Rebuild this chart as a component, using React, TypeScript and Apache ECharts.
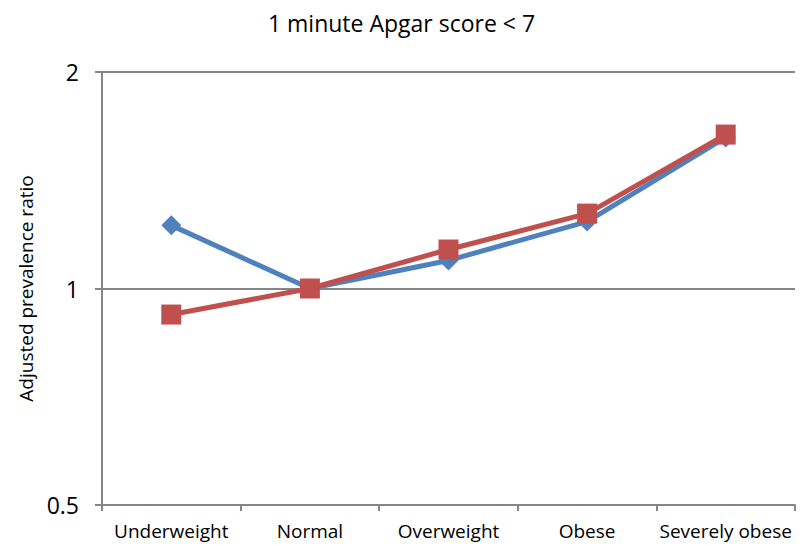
import React, { useEffect, useRef } from "react";
import * as echarts from "echarts";

const categories = ["Underweight", "Normal", "Overweight", "Obese", "Severely obese"];
const seriesA = [1.224, 1.0, 1.094, 1.239, 1.622];
const seriesB = [0.92, 1.0, 1.133, 1.271, 1.637];
const titleText = "1 minute Apgar score < 7";
const yAxisName = "Adjusted prevalence ratio";

const FONT = "Open Sans";

export default function App() {
  const ref = useRef<HTMLDivElement>(null);
  useEffect(() => {
    if (!ref.current) return;
    const chart = echarts.init(ref.current, null, { renderer: "svg" });
    chart.setOption({
      animation: false,
      backgroundColor: "#ffffff",
      title: {
        text: titleText,
        left: "center",
        top: 6,
        textStyle: { fontFamily: FONT, fontSize: 23, fontWeight: "normal", color: "#000" },
      },
      grid: { left: 102, right: 8, top: 72, bottom: 41 },
      xAxis: {
        type: "category",
        data: categories,
        boundaryGap: true,
        axisLine: { lineStyle: { color: "#868686", width: 2 } },
        axisTick: { show: true, alignWithLabel: false, length: 6, lineStyle: { color: "#868686", width: 2 } },
        axisLabel: { fontFamily: FONT, fontSize: 19, color: "#000", margin: 16, interval: 0 },
        splitLine: { show: false },
      },
      yAxis: {
        type: "log",
        logBase: 2,
        min: 0.5,
        max: 2,
        name: yAxisName,
        nameLocation: "middle",
        nameGap: 66,
        nameTextStyle: { fontFamily: FONT, fontSize: 19, color: "#000" },
        axisLine: { show: true, lineStyle: { color: "#868686", width: 2 } },
        axisTick: { show: true, length: 7, lineStyle: { color: "#868686", width: 2 } },
        axisLabel: { fontFamily: FONT, fontSize: 23, color: "#000", margin: 23 },
        splitLine: { show: true, lineStyle: { color: "#868686", width: 2 } },
      },
      series: [
        {
          type: "line",
          data: seriesA,
          symbol: "diamond",
          symbolSize: 20,
          lineStyle: { color: "#4F81BD", width: 5 },
          itemStyle: { color: "#4F81BD" },
          z: 2,
        },
        {
          type: "line",
          data: seriesB,
          symbol: "rect",
          symbolSize: 20,
          lineStyle: { color: "#C0504D", width: 5 },
          itemStyle: { color: "#C0504D" },
          z: 3,
        },
      ],
    });
    return () => chart.dispose();
  }, []);
  return <div ref={ref} style={{ width: 803, height: 546, position: "absolute", left: 0, top: 0 }} />;
}
